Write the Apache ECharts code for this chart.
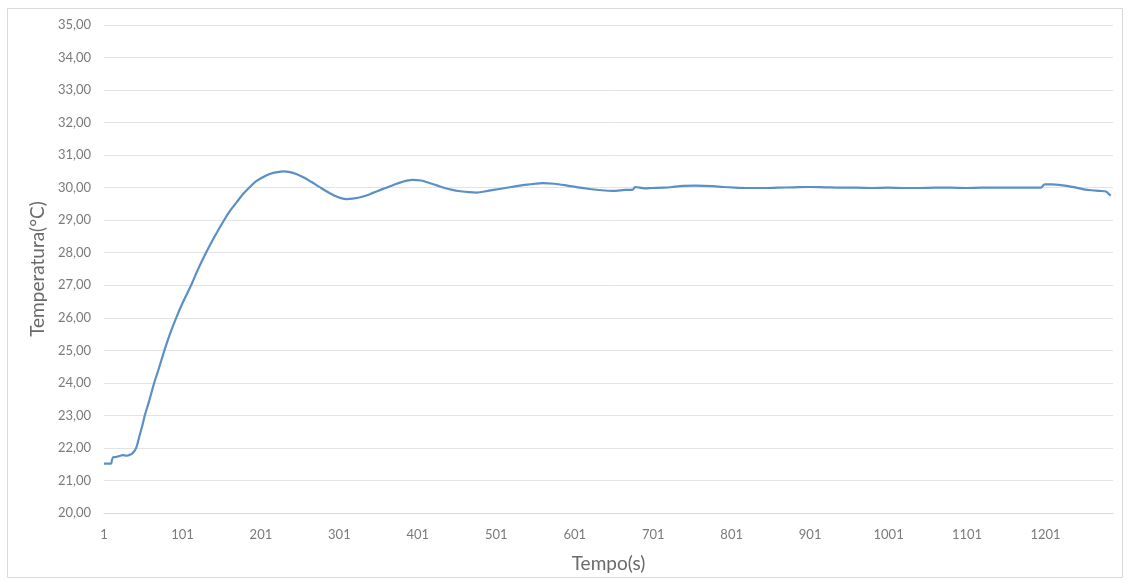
<!DOCTYPE html>
<html><head><meta charset="utf-8">
<script src="https://cdn.jsdelivr.net/npm/echarts@6/dist/echarts.min.js"></script>
<style>html,body{margin:0;padding:0;background:#fff}#c{width:1131px;height:581px}</style>
</head><body><div id="c"></div>
<script>
var timeS = [1,5,10,11,13,15,20,25,30,35,38,42,46,50,53,58,65,71,78,85,93,102,112,121,131,142,154,162,170,178,186,195,204,213,222,230,238,246,255,265,275,285,295,303,310,320,330,340,350,360,370,380,394,405,415,425,435,445,455,466,476,490,505,520,535,550,560,575,590,605,620,635,649,665,675,678,690,700,715,725,735,755,777,790,805,820,840,860,880,900,920,940,960,980,1000,1020,1040,1060,1080,1100,1120,1140,1160,1180,1195,1200,1210,1220,1230,1240,1250,1260,1270,1278,1282,1284];
var tempC = [21.52,21.52,21.52,21.62,21.72,21.72,21.75,21.78,21.76,21.8,21.85,22.0,22.35,22.7,23.0,23.4,24.0,24.45,25.0,25.5,26.0,26.5,27.0,27.5,28.0,28.5,29.0,29.3,29.55,29.8,30.0,30.2,30.33,30.43,30.48,30.5,30.48,30.42,30.32,30.18,30.03,29.88,29.75,29.68,29.65,29.67,29.72,29.8,29.9,29.99,30.08,30.17,30.24,30.22,30.15,30.07,29.99,29.93,29.89,29.86,29.85,29.9,29.96,30.02,30.08,30.12,30.14,30.12,30.07,30.01,29.96,29.92,29.9,29.93,29.94,30.02,29.98,29.99,30.0,30.02,30.05,30.06,30.05,30.02,30.0,29.99,29.99,30.0,30.01,30.02,30.01,30.0,30.0,29.99,30.0,29.99,29.99,30.0,30.0,29.99,30.0,30.0,30.0,30.0,30.0,30.1,30.1,30.08,30.05,30.0,29.95,29.92,29.9,29.88,29.8,29.75];
var xTicks = [1,101,201,301,401,501,601,701,801,901,1001,1101,1201];
var xTitle = 'Tempo(s)';
var yTitle = 'Temperatura(°C)';

var pts = timeS.map(function(t,i){return [t,tempC[i]];});
var chart = echarts.init(document.getElementById('c'));
chart.setOption({
  animation:false,
  textStyle:{fontFamily:'Lato, "Open Sans", sans-serif'},
  graphic:[{type:'rect',shape:{x:7.5,y:8.5,width:1115,height:569},style:{fill:'none',stroke:'#d9d9d9',lineWidth:1}}],
  grid:{left:104,right:18,top:25,bottom:68,containLabel:false},
  xAxis:{type:'value',min:1,max:1287,
    name:xTitle,nameLocation:'middle',nameGap:41,
    nameTextStyle:{fontSize:19,color:'#6a6a6a'},
    axisLine:{show:true,lineStyle:{color:'#d9d9d9'}},
    axisTick:{show:false},
    splitLine:{show:false},
    axisLabel:{customValues:xTicks,color:'#7a7a7a',fontSize:13,margin:15,
      formatter:function(v){return String(Math.round(v));}}
  },
  yAxis:{type:'value',min:20,max:35,interval:1,
    name:yTitle,nameLocation:'middle',nameGap:55,
    nameTextStyle:{fontSize:19,color:'#6a6a6a'},
    axisLine:{show:false},axisTick:{show:false},
    splitLine:{lineStyle:{color:'#e3e3e3',width:1}},
    axisLabel:{color:'#7a7a7a',fontSize:13,margin:13,
      formatter:function(v){return v.toFixed(2).replace('.',',');}}
  },
  series:[{type:'line',data:pts,showSymbol:false,smooth:0.3,
    lineStyle:{color:'#5b8fc7',width:2.2}}]
});
</script></body></html>
